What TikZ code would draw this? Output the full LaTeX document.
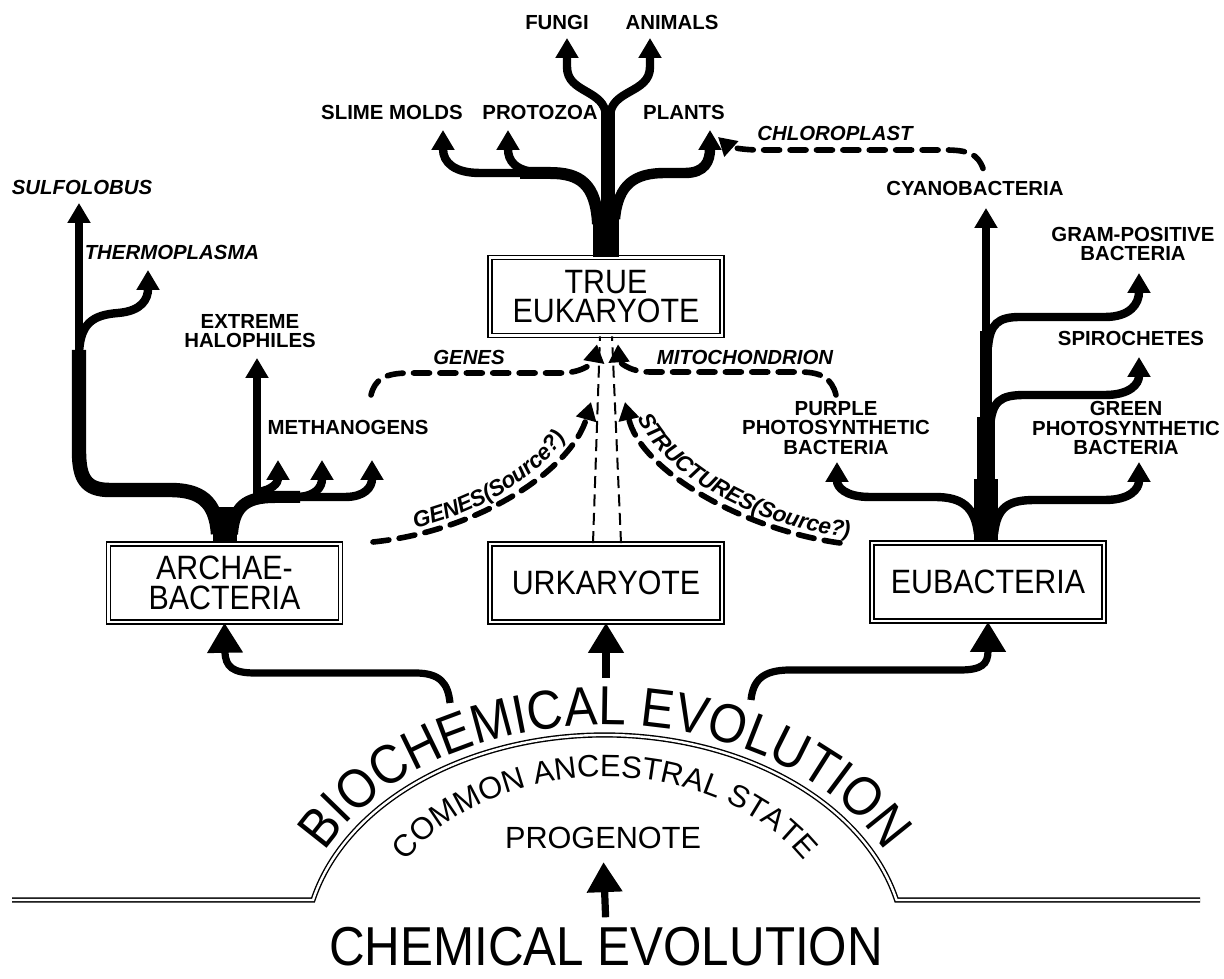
\documentclass[tikz,border=0pt]{standalone}
\usepackage{fontspec}
\setmainfont{Liberation Sans}
\newfontfamily\condfont{Liberation Sans}[FakeStretch=0.9]
\usetikzlibrary{arrows.meta,decorations.text,calc}

\newcommand\taxfont{\bfseries\fontsize{14.5}{14}\selectfont}
\newcommand\orgfont{\bfseries\itshape\fontsize{14.5}{14}\selectfont}
\newcommand\srcfont{\bfseries\itshape\fontsize{16}{16}\selectfont}
\newcommand\evofont{\condfont\fontsize{39}{39}\selectfont}
\newcommand\statefont{\fontsize{22}{22}\selectfont}

\begin{document}
\begin{tikzpicture}[
    x=0.025cm, y=0.025cm,
    >={Triangle[length=5mm, width=5.5mm]},
    kingdom/.style={
        draw,
        double,
        double distance=0.6mm,
        line width=0.4mm,
        minimum width=5.8cm,
        minimum height=1.95cm,
        inner sep=0pt,
        align=center,
        font=\condfont\fontsize{24}{21}\selectfont
    },
    taxon/.style={
        inner sep=0pt,
        align=center,
        font=\taxfont
    },
    organelle/.style={
        taxon,
        font=\orgfont
    },
    trunk/.style={line width=6mm},
    limb/.style={line width=3mm},
    twig/.style={line width=2.1mm, ->},
    lift/.style={
        line width=1.8mm,
        -{Triangle[length=7.5mm, width=8.5mm]}
    },
    transfer/.style={
        line width=1.4mm,
        line cap=round,
        dash pattern=on 4mm off 2.6mm,
        -{Triangle[length=4.5mm, width=5mm]}
    },
    lineage/.style={
        line width=0.5mm,
        dash pattern=on 3mm off 1.6mm
    },
    tag/.style={
        decorate,
        decoration={text along path, text align=center, raise=1.6mm}
    }
]
\useasboundingbox (0,0) rectangle (1224,979);

% Kingdom boxes
\node[kingdom] (arch) at (224.5,396) {ARCHAE-\\BACTERIA};
\node[kingdom] (urk) at (606,396) {URKARYOTE};
\node[kingdom] (eub) at (988,397) {EUBACTERIA};
\node[kingdom] (euk) at (606,682.5) {TRUE\\EUKARYOTE};

% Ground line, hill and its texts
\coordinate (hill) at (605,29);
\draw[double, double distance=0.6mm, line width=0.35mm]
    (12,79) -- (313,79) arc[start angle=166.55, end angle=13.45, x radius=300, y radius=215] -- (1200,79);
\path[decorate, decoration={text along path, text align=center, text={|\evofont|BIOCHEMICAL EVOLUTION}}]
    ($(hill)+(160:312 and 225)$) arc[start angle=160, end angle=20, x radius=312, y radius=225];
\path[decorate, decoration={text along path, text align=center, text={|\statefont|COMMON ANCESTRAL STATE}}]
    ($(hill)+(157:232 and 173)$) arc[start angle=157, end angle=23, x radius=232, y radius=173];
\node[font=\fontsize{21.8}{22}\selectfont, inner sep=0pt] (prog) at (603,141) {PROGENOTE};
\node[font=\evofont, inner sep=0pt] (chem) at (606,32) {CHEMICAL EVOLUTION};

% Archaebacterial labels
\node[organelle] (sulf) at (82,792) {SULFOLOBUS};
\node[organelle] (thermo) at (172,727) {THERMOPLASMA};
\node[taxon] (halo) at (250,648) {EXTREME\\HALOPHILES};
\node[taxon] (metha) at (348,552) {METHANOGENS};

% Eukaryotic labels
\node[taxon] (fungi) at (557,957) {FUNGI};
\node[taxon] (animals) at (672,957) {ANIMALS};
\node[taxon] (slime) at (392,867) {SLIME MOLDS};
\node[taxon] (proto) at (540,867) {PROTOZOA};
\node[taxon] (plants) at (684,867) {PLANTS};

% Eubacterial labels
\node[organelle] (chloro) at (835,846) {CHLOROPLAST};
\node[taxon] (cyano) at (975,791) {CYANOBACTERIA};
\node[taxon] (gram) at (1133,735) {GRAM-POSITIVE\\BACTERIA};
\node[taxon] (spiro) at (1131,641) {SPIROCHETES};
\node[taxon] (green) at (1126,551) {GREEN\\PHOTOSYNTHETIC\\BACTERIA};
\node[taxon] (purple) at (836,551) {PURPLE\\PHOTOSYNTHETIC\\BACTERIA};

% Transfer labels
\node[organelle] (genes) at (469,622) {GENES};
\node[organelle] (mito) at (745,622) {MITOCHONDRION};

% Tips and free ends
\coordinate (sulf tip) at (79,776);
\coordinate (thermo tip) at (148,709);
\coordinate (halo tip) at (257,621);
\coordinate (meth1 tip) at (278,519);
\coordinate (meth2 tip) at (322,519);
\coordinate (meth3 tip) at (372,519);
\coordinate (fungi tip) at (567,941);
\coordinate (animal tip) at (650,941);
\coordinate (slime tip) at (443,849);
\coordinate (proto tip) at (508,849);
\coordinate (plant tip) at (710,849);
\coordinate (cyano tip) at (986,771);
\coordinate (gram tip) at (1139,706);
\coordinate (spiro tip) at (1139,622);
\coordinate (green tip) at (1139,517);
\coordinate (purple tip) at (837,517);
\coordinate (chloro tip) at (718,842);
\coordinate (genes root) at (371,584);
\coordinate (mito root) at (836,584);
\coordinate (gs root) at (373,437);
\coordinate (gs tip) at (591,577);
\coordinate (ss root) at (840,436);
\coordinate (ss tip) at (625,577);
\coordinate (arch root) at (450,276);
\coordinate (urk root) at (606,301);
\coordinate (eub root) at (751,279);

% Archaebacterial tree
\draw[trunk] (225,438) -- (225,472);
\draw[line width=3.6mm] (218,445) .. controls (216,478) and (200,489) .. (170,489) -- (110,489)
    .. controls (86,489) and (79,500) .. (79,528) -- (79,629);
\draw[twig] (79,600) -- (sulf tip);
\draw[twig] (79,625) .. controls (80,655) and (92,664) .. (118,666) .. controls (142,668) and (148,680) .. (thermo tip);
\draw[limb] (232,445) .. controls (234,472) and (245,482) .. (275,482) -- (300,482);
\draw[twig] (290,482) -- (345,482) .. controls (365,482) and (372,492) .. (meth3 tip);
\draw[twig] (257,480) -- (halo tip);
\draw[twig] (258,487) .. controls (272,489) and (278,496) .. (meth1 tip);
\draw[twig] (298,482) .. controls (316,483) and (322,492) .. (meth2 tip);

% Eukaryotic tree
\draw[line width=6.5mm] (euk.north) -- ++(0,50);
\draw[line width=3.5mm] (608,760) -- (608,872);
\draw[twig] (606,862) .. controls (606,890) and (567,885) .. (567,912) -- (fungi tip);
\draw[twig] (610,862) .. controls (610,890) and (650,885) .. (650,912) -- (animal tip);
\draw[limb] (598,755) .. controls (596,795) and (580,806) .. (550,806) -- (520,806);
\draw[twig] (530,806) -- (480,806) .. controls (455,806) and (443,816) .. (slime tip);
\draw[twig] (540,806) .. controls (515,808) and (508,818) .. (proto tip);
\draw[line width=2.6mm, ->] (615,760) .. controls (618,795) and (635,806) .. (665,806) -- (685,806)
    .. controls (705,806) and (710,818) .. (plant tip);

% Eubacterial tree
\draw[trunk] (986,438) -- (986,500);
\draw[line width=4.5mm] (986,490) -- (986,562);
\draw[line width=3mm] (986,555) -- (986,648);
\draw[twig] (986,640) -- (cyano tip);
\draw[twig] (978,445) .. controls (975,472) and (962,482) .. (935,482) -- (870,482)
    .. controls (845,482) and (837,492) .. (purple tip);
\draw[twig] (994,445) .. controls (997,472) and (1008,479) .. (1035,479) -- (1105,479)
    .. controls (1130,479) and (1139,490) .. (green tip);
\draw[twig] (990,552) .. controls (992,578) and (1000,584) .. (1025,584) -- (1105,584)
    .. controls (1130,584) and (1139,595) .. (spiro tip);
\draw[twig] (988,632) .. controls (990,655) and (998,662) .. (1020,662) -- (1105,662)
    .. controls (1130,662) and (1139,675) .. (gram tip);

% Connections from the hill
\draw[lift] (arch root) .. controls (448,296) and (440,306) .. (415,306) -- (255,306)
    .. controls (233,306) and (225,312) .. (225,328) -- (arch.south);
\draw[lift] (urk root) -- (urk.south);
\draw[lift] (eub root) .. controls (753,298) and (762,309) .. (790,309) -- (960,309)
    .. controls (982,309) and (988,315) .. (988,328) -- (eub.south);
\draw[lift, shorten <=2.5mm, shorten >=3.25mm] (chem.north) -- (prog.south);

% Urkaryote to true eukaryote
\draw[lineage] ([xshift=-3.25mm]urk.north) -- ([xshift=-1.5mm]euk.south);
\draw[lineage] ([xshift=3.75mm]urk.north) -- ([xshift=1.5mm]euk.south);

% Transfers
\draw[transfer] (genes root) .. controls (375,600) and (385,606) .. (410,606) -- (560,606)
    .. controls (585,606) and (594,618) .. ([xshift=-2.25mm, yshift=-2mm]euk.south);
\draw[transfer] (mito root) .. controls (832,600) and (822,607) .. (800,607) -- (650,607)
    .. controls (628,607) and (619,618) .. ([xshift=3mm, yshift=-2mm]euk.south);
\draw[transfer] ([xshift=2mm, yshift=3mm]cyano.north) .. controls (978,825) and (968,829) .. (945,829) -- (760,829)
    .. controls (740,829) and (728,833) .. (chloro tip);
\draw[transfer] (gs root) .. controls (480,448) and (572,510) .. (gs tip);
\draw[transfer] (ss root) .. controls (740,450) and (640,510) .. (ss tip);
\path[tag, decoration={text={|\srcfont|GENES(Source?)}}] (gs root) .. controls (480,448) and (572,510) .. (gs tip);
\path[tag, decoration={text={|\srcfont|STRUCTURES(Source?)}}] (ss tip) .. controls (640,510) and (740,450) .. (ss root) -- ++(30,-2);

\end{tikzpicture}
\end{document}
